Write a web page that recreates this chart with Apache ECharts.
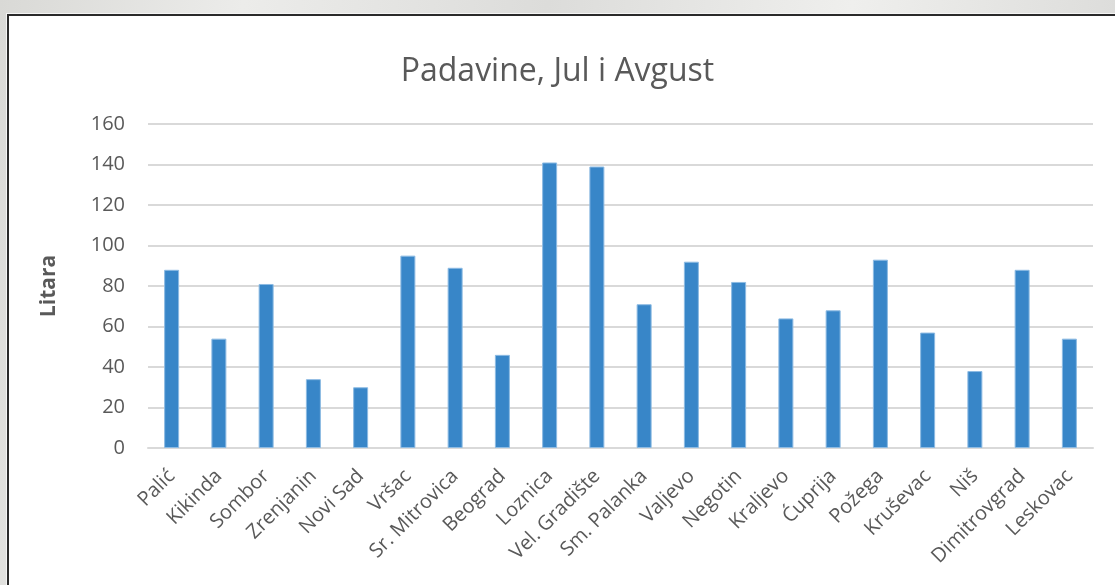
<!DOCTYPE html>
<html>
<head>
<meta charset="utf-8">
<script src="https://cdn.jsdelivr.net/npm/echarts@6/dist/echarts.min.js"></script>
<style>
  html, body { margin: 0; padding: 0; width: 1115px; height: 585px; overflow: hidden; }
  body { background: linear-gradient(100deg, #d9d9d6 0%, #ececea 20%, #dcdcda 45%, #efefed 70%, #d6d6d4 100%); position: relative; }
  #frame { position: absolute; left: 7px; top: 14px; width: 1120px; height: 590px; border: 2px solid #2a2a2a; background: #ffffff; box-shadow: 0 0 0 1px #f4f4f4; }
  #chart { position: absolute; left: 0; top: 0; width: 1115px; height: 585px; }
</style>
</head>
<body>
<div id="frame"></div>
<div id="chart"></div>
<script>
const titleText = 'Padavine, Jul i Avgust';
const yAxisName = 'Litara';
const categories = ['Palić', 'Kikinda', 'Sombor', 'Zrenjanin', 'Novi Sad', 'Vršac', 'Sr. Mitrovica', 'Beograd', 'Loznica', 'Vel. Gradište', 'Sm. Palanka', 'Valjevo', 'Negotin', 'Kraljevo', 'Ćuprija', 'Požega', 'Kruševac', 'Niš', 'Dimitrovgrad', 'Leskovac'];
const values = [88, 54, 81, 34, 30, 95, 89, 46, 141, 139, 71, 92, 82, 64, 68, 93, 57, 38, 88, 54];
const yMin = 0, yMax = 160, yStep = 20;

const chart = echarts.init(document.getElementById('chart'), null, { renderer: 'canvas' });
const font = '"Open Sans", "Noto Sans", sans-serif';
chart.setOption({
  backgroundColor: 'transparent',
  animation: false,
  title: {
    text: titleText,
    left: 'center',
    top: 51,
    textStyle: { fontFamily: font, fontSize: 32, fontWeight: 'normal', color: '#595959' }
  },
  grid: { left: 148, right: 22, top: 124, bottom: 137, containLabel: false },
  xAxis: {
    type: 'category',
    data: categories,
    axisLine: { show: true, lineStyle: { color: '#d9d9d9', width: 2 } },
    axisTick: { show: false },
    axisLabel: { rotate: 45, interval: 0, margin: 25, fontFamily: font, fontSize: 20, color: '#595959' }
  },
  yAxis: {
    type: 'value',
    min: yMin, max: yMax, interval: yStep,
    name: yAxisName,
    nameLocation: 'middle',
    nameGap: 88,
    nameTextStyle: { fontFamily: font, fontSize: 21, fontWeight: 'bold', color: '#595959' },
    axisLine: { show: false },
    axisTick: { show: false },
    axisLabel: { margin: 23, fontFamily: font, fontSize: 20, color: '#595959' },
    splitLine: { lineStyle: { color: '#d9d9d9', width: 2 } }
  },
  series: [{
    type: 'bar',
    data: values,
    barWidth: 15,
    itemStyle: { color: '#3886c8', borderColor: '#8dbbe3', borderWidth: 1 }
  }]
});
</script>
</body>
</html>
